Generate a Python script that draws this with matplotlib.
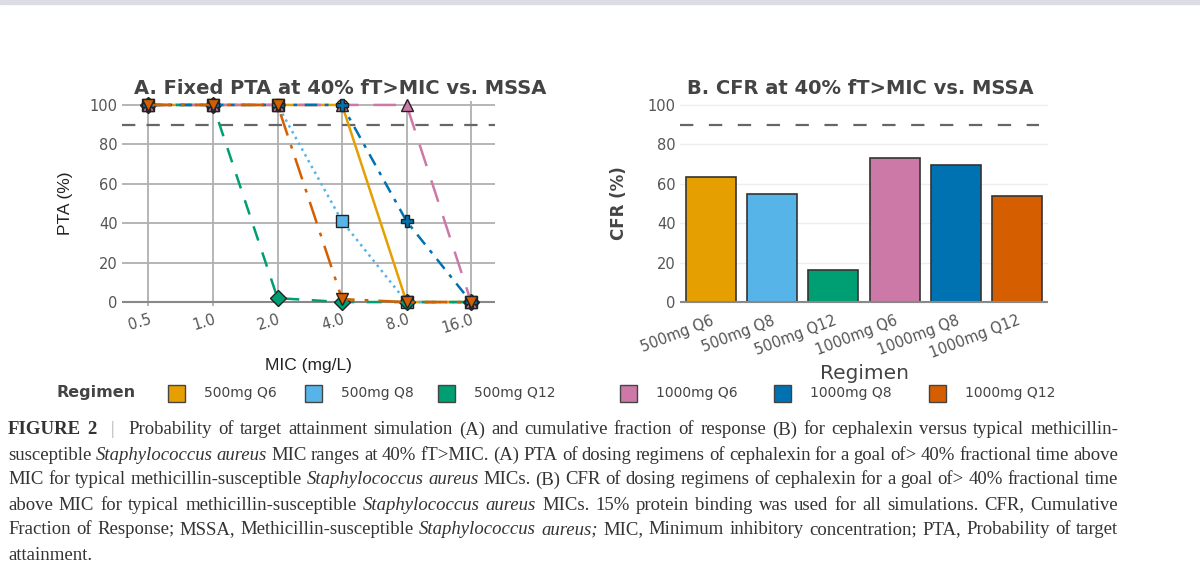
import numpy as np
import matplotlib
matplotlib.use("Agg")
import matplotlib.pyplot as plt
from matplotlib.patches import Rectangle

# data
mic_labels = ["0.5", "1.0", "2.0", "4.0", "8.0", "16.0"]
regimens = ["500mg Q6", "500mg Q8", "500mg Q12", "1000mg Q6", "1000mg Q8", "1000mg Q12"]
colors = ["#E69F00", "#56B4E9", "#009E73", "#CC79A7", "#0072B2", "#D55E00"]

pta_500_q6 = [100, 100, 100, 100, 0, 0]
pta_500_q8 = [100, 100, 100, 41, 0, 0]
pta_500_q12 = [100, 100, 2, 0, 0, 0]
pta_1000_q6 = [100, 100, 100, 100, 100, 0]
pta_1000_q8 = [100, 100, 100, 100, 41, 0]
pta_1000_q12 = [100, 100, 100, 1.5, 0, 0]

cfr = [63.5, 55, 16.5, 73, 69.5, 54]
target = 90

W, H = 1200, 577
fig = plt.figure(figsize=(12, 5.77), dpi=100)

def px_axes(left, top, right, bottom):
    return fig.add_axes([left / W, 1 - bottom / H, (right - left) / W, (bottom - top) / H])

# thin gray band at the top of the screenshot
fig.patches.append(Rectangle((0, 1 - 4 / H), 1, 4 / H, transform=fig.transFigure,
                             color="#dcdce4", zorder=0))

# ---- panel A
axA = px_axes(122, 101, 495, 306)
x = np.arange(len(mic_labels))
series = [pta_500_q6, pta_500_q8, pta_500_q12, pta_1000_q6, pta_1000_q8, pta_1000_q12]
styles = ["-", ":", (0, (6, 5)), (0, (9, 6)), (0, (5, 3, 1.5, 3)), (0, (9, 4, 1.5, 4))]
markers = ["o", "s", "D", "^", "P", "v"]
for vals, col, ls, mk in zip(series, colors, styles, markers):
    axA.plot(x, vals, color=col, ls=ls, lw=1.8, marker=mk, ms=8,
             mec="#222222", mew=1.0, clip_on=False, zorder=3)
axA.axhline(target, color="#666666", ls=(0, (6, 5)), lw=1.6, zorder=2)
axA.set_xlim(-0.41, 5.37)
axA.set_ylim(-2, 102)
axA.set_yticks([0, 20, 40, 60, 80, 100])
axA.set_xticks(x)
axA.set_xticklabels(mic_labels, rotation=17, ha="right", rotation_mode="anchor")
axA.grid(True, color="#b0b0b0", lw=1.3)
axA.set_axisbelow(True)
for s in axA.spines.values():
    s.set_visible(False)
axA.axhline(0, color="#888888", lw=1.5, zorder=1)
axA.tick_params(length=0, labelsize=10.5, labelcolor="#555555", pad=3)
axA.tick_params(axis="x", pad=4)
axA.set_xlabel("MIC (mg/L)", fontsize=12.5, family="Liberation Sans", color="#222222", labelpad=16)
axA.set_ylabel("PTA (%)", fontsize=12.5, family="Liberation Sans", color="#222222", labelpad=12)
fig.text(340 / W, 1 - 88 / H, "A. Fixed PTA at 40% fT>MIC vs. MSSA", ha="center", va="center",
         fontsize=14, fontweight="bold", color="#444444")

# ---- panel B
axB = px_axes(680, 101, 1048, 306)
xb = np.arange(len(regimens))
axB.bar(xb, cfr, width=0.81, color=colors, edgecolor="#333333", lw=1.2, zorder=3)
axB.plot([-0.5, 5.35], [target, target], color="#666666", ls=(0, (6, 7)), lw=1.6, zorder=2)
axB.set_xlim(-0.5, 5.5)
axB.set_ylim(-2, 102)
axB.set_yticks([0, 20, 40, 60, 80, 100])
axB.set_xticks(xb)
axB.set_xticklabels(regimens, rotation=21, ha="right", rotation_mode="anchor")
axB.grid(True, axis="y", color="#eeeeee", lw=1.0)
axB.set_axisbelow(True)
for s in axB.spines.values():
    s.set_visible(False)
axB.axhline(0, color="#888888", lw=1.5, zorder=4)
axB.tick_params(length=0, labelsize=10.5, labelcolor="#555555", pad=3)
axB.tick_params(axis="x", pad=5)
axB.set_xlabel("Regimen", fontsize=14.5, color="#444444", labelpad=2)
axB.set_ylabel("CFR (%)", fontsize=12, fontweight="bold", color="#444444", labelpad=14)
fig.text(860 / W, 1 - 88 / H, "B. CFR at 40% fT>MIC vs. MSSA", ha="center", va="center",
         fontsize=14, fontweight="bold", color="#444444")

# ---- shared legend row
leg_y = 1 - 393 / H
fig.text(57 / W, leg_y, "Regimen", ha="left", va="center", fontsize=11.5,
         fontweight="bold", color="#444444")
patch_x = [168, 305, 438, 620, 774, 929]
for px0, col, lab in zip(patch_x, colors, regimens):
    fig.patches.append(Rectangle((px0 / W, 1 - 402 / H), 17 / W, 17 / H, transform=fig.transFigure,
                                 facecolor=col, edgecolor="#444444", lw=1.0))
    fig.text((px0 + 36) / W, leg_y, lab, ha="left", va="center", fontsize=10, color="#444444")

# ---- caption (justified, word by word)
cap_lines = [
    [("FIGURE", "b"), ("2", "b"), ("|", "g"), ("Probability", ""), ("of", ""), ("target", ""),
     ("attainment", ""), ("simulation", ""), ("(A)", ""), ("and", ""), ("cumulative", ""),
     ("fraction", ""), ("of", ""), ("response", ""), ("(B)", ""), ("for", ""), ("cephalexin", ""),
     ("versus", ""), ("typical", ""), ("methicillin-", "")],
    "susceptible *Staphylococcus *aureus MIC ranges at 40% fT>MIC. (A) PTA of dosing regimens of cephalexin for a goal of> 40% fractional time above",
    "MIC for typical methicillin-susceptible *Staphylococcus *aureus MICs. (B) CFR of dosing regimens of cephalexin for a goal of> 40% fractional time",
    "above MIC for typical methicillin-susceptible *Staphylococcus *aureus MICs. 15% protein binding was used for all simulations. CFR, Cumulative",
    "Fraction of Response; MSSA, Methicillin-susceptible *Staphylococcus *aureus; MIC, Minimum inhibitory concentration; PTA, Probability of target",
    "attainment.",
]

renderer = fig.canvas.get_renderer()
x_left, x_right = 8, 1118
for i, line in enumerate(cap_lines):
    if isinstance(line, str):
        words = [(w[1:], "i") if w.startswith("*") else (w, "") for w in line.split(" ")]
    else:
        words = line
    y = 1 - (430 + 25 * i) / H
    texts = []
    for w, st in words:
        t = fig.text(0, y, w, ha="left", va="center", family="Liberation Serif", fontsize=13.5,
                     color="#aaaaaa" if st == "g" else "#333333",
                     fontweight="bold" if st == "b" else "normal",
                     fontstyle="italic" if st == "i" else "normal")
        texts.append(t)
    widths = [t.get_window_extent(renderer).width for t in texts]
    # extra room on both sides of the "|" separator
    pads = [8 if st == "g" else 0 for _, st in words]
    if i < len(cap_lines) - 1:
        gap = (x_right - x_left - sum(widths) - 2 * sum(pads)) / (len(texts) - 1)
    else:
        gap = 5
    cx = x_left
    for t, wd, pd in zip(texts, widths, pads):
        cx += pd
        t.set_x(cx / W)
        cx += wd + pd + gap

fig.savefig("out.png", dpi=100, facecolor="white")
